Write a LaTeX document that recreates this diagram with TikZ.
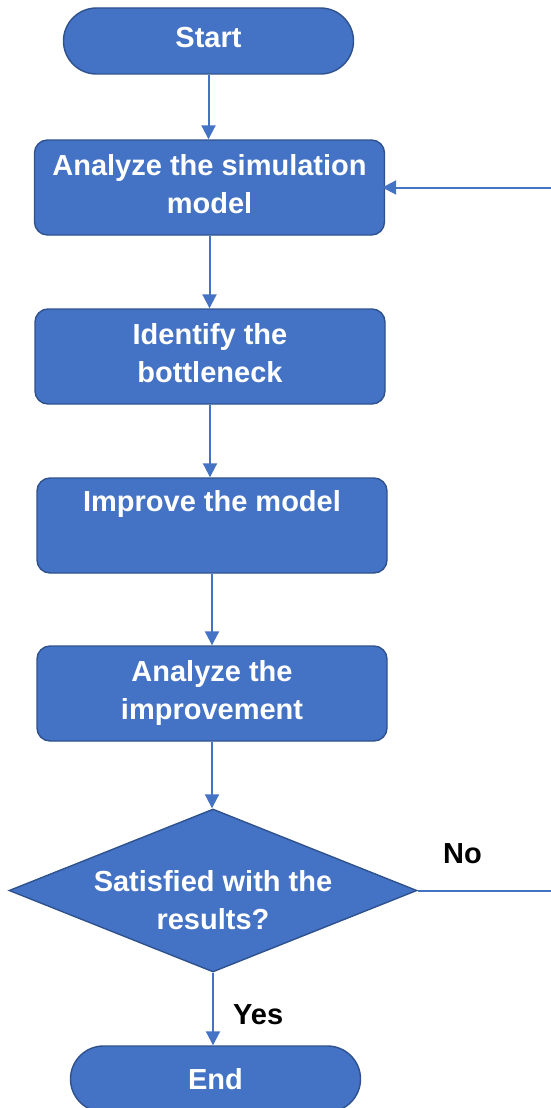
\documentclass[tikz,border=0pt]{standalone}
\usepackage{fontspec}
\setmainfont{Liberation Sans}
\usetikzlibrary{arrows.meta,shapes.geometric,shapes.misc}
\definecolor{flowfill}{HTML}{4472C4}
\definecolor{flowedge}{HTML}{2F528F}
\newcommand{\lowpad}{\rule[-8pt]{0pt}{8pt}}
\begin{document}
\begin{tikzpicture}[x=1pt,y=-1pt,
  base/.style={fill=flowfill, draw=flowedge, line width=1.4pt, text=white,
    font=\fontsize{29}{38}\selectfont\bfseries, align=center, inner sep=0pt},
  terminal/.style={base, rounded rectangle, minimum width=290pt, minimum height=66pt},
  process/.style={base, rectangle, rounded corners=13pt, minimum width=350pt, minimum height=95pt},
  decision/.style={base, diamond, aspect=2.5, inner xsep=-60pt, inner ysep=-10pt,
    minimum width=408pt, minimum height=163pt},
  flow/.style={draw=flowfill, line width=2pt, -{Triangle[length=14pt,width=14pt]}},
  branch/.style={font=\fontsize{29}{34}\selectfont\bfseries, text=black, inner sep=0pt, anchor=base west}]
  \useasboundingbox (0,0) rectangle (551,1108);

  % steps of the procedure
  \node[terminal] (start) at (208.5,41) {Start\lowpad};
  \node[process] (analyze) at (209.5,187.5) {Analyze the simulation\\model\lowpad};
  \node[process] (identify) at (210,356.5) {Identify the\\bottleneck\lowpad};
  \node[process] (improve) at (212,525.5) {Improve the model\\\strut};
  \node[process] (assess) at (212,693.5) {Analyze the\\improvement\lowpad};
  \node[decision] (check) at (213,890.5) {\rule{0pt}{40pt}Satisfied with the\\results?};
  \node[terminal] (finish) at (215.5,1079) {End};

  % branch labels
  \node[branch] (nolabel) at (443,863) {No};
  \node[branch] (yeslabel) at (233,1024) {Yes};

  % turning points of the loop back
  \coordinate (loopdown) at (553,890.5);
  \coordinate (loopup) at (553,187.5);

  % connectors
  \draw[flow] (start.south) -- (start.south |- analyze.north);
  \draw[flow] (analyze.south) -- (analyze.south |- identify.north);
  \draw[flow] (identify.south) -- (identify.south |- improve.north);
  \draw[flow] (improve.south) -- (improve.south |- assess.north);
  \draw[flow] (assess.south) -- (assess.south |- check.north);
  \draw[flow] (check.south) -- (check.south |- finish.north);
  \draw[flow, shorten >=-3pt] (check.east) -- (loopdown) -- (loopup) -- (analyze.east);
\end{tikzpicture}
\end{document}
